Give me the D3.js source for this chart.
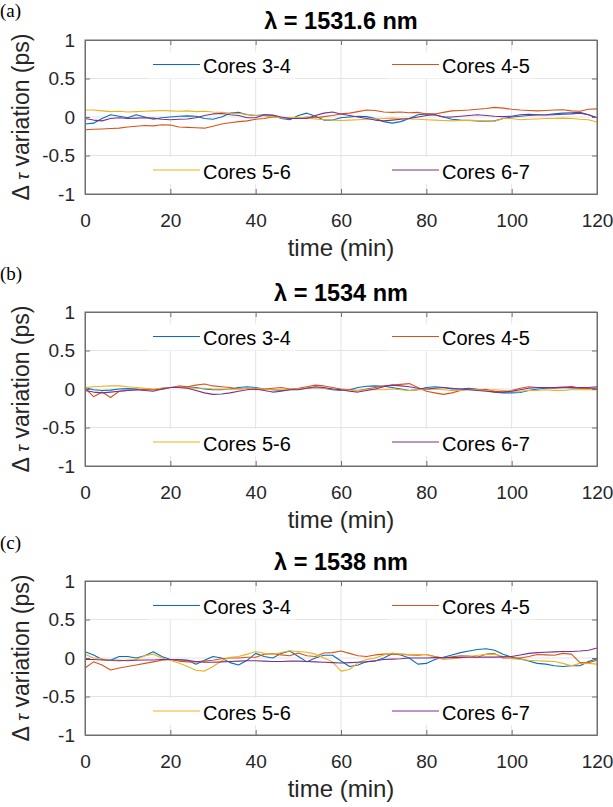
<!DOCTYPE html>
<html>
<head>
<meta charset="utf-8">
<script src="https://cdn.jsdelivr.net/npm/d3@7"></script>
<style>
  body { margin: 0; background: #ffffff; }
  svg { display: block; }
</style>
</head>
<body>
<svg id="chart"></svg>
<script>
// time axis (min), one sample every 2 min
const timeMin = [0,2,4,6,8,10,12,14,16,18,20,22,24,26,28,30,32,34,36,38,40,42,44,46,48,50,52,54,56,58,60,
  62,64,66,68,70,72,74,76,78,80,82,84,86,88,90,92,94,96,98,100,102,104,106,108,110,112,114,116,118,120];

const xTicks = [0, 20, 40, 60, 80, 100, 120];
const yTicks = [-1, -0.5, 0, 0.5, 1];
const yTickLabels = ["-1", "-0.5", "0", "0.5", "1"];

const seriesNames = ["Cores 3-4", "Cores 4-5", "Cores 5-6", "Cores 6-7"];
const seriesColors = ["#0072BD", "#D95319", "#EDB120", "#7E2F8E"];

const panelTitles = ["1531.6 nm", "1534 nm", "1538 nm"];
const panelLetters = ["(a)", "(b)", "(c)"];

// (a) lambda = 1531.6 nm
const a34 = [-0.09,-0.08,-0.02,0.03,0.01,-0.01,0.03,0,-0.03,-0.01,0,0.01,0.015,0.01,-0.02,-0.03,0,0.05,0.06,0.03,0.02,
  0.03,0.02,-0.02,-0.035,0.02,0.05,0.01,-0.04,-0.04,-0.01,0,0.01,0.005,-0.02,-0.06,-0.08,-0.06,-0.02,0.03,0.04,
  0.03,0,-0.03,-0.04,-0.045,-0.05,-0.055,-0.05,-0.02,0,0.01,0.02,0.025,0.03,0.04,0.05,0.055,0.06,0.03,-0.01];
const a45 = [-0.165,-0.16,-0.155,-0.15,-0.145,-0.13,-0.12,-0.11,-0.115,-0.1,-0.105,-0.13,-0.135,-0.14,-0.145,-0.12,-0.09,-0.075,-0.06,-0.05,-0.03,
  -0.02,0,-0.01,-0.015,-0.02,0,-0.01,0.005,0.02,0.04,0.05,0.07,0.09,0.085,0.065,0.06,0.065,0.055,0.06,0.04,
  0.04,0.06,0.08,0.085,0.09,0.1,0.11,0.125,0.115,0.1,0.09,0.085,0.08,0.085,0.09,0.095,0.08,0.075,0.1,0.105];
const a56 = [0.09,0.09,0.08,0.07,0.075,0.065,0.07,0.075,0.08,0.085,0.08,0.075,0.08,0.07,0.075,0.065,0.06,0.05,0.045,0.035,0.02,
  0.015,0,-0.01,-0.01,-0.005,-0.015,-0.025,-0.035,-0.04,-0.045,-0.04,-0.035,-0.03,-0.025,-0.02,-0.015,-0.02,-0.025,-0.03,-0.035,
  -0.04,-0.045,-0.05,-0.045,-0.04,-0.045,-0.05,-0.055,-0.02,-0.02,-0.035,-0.03,-0.025,-0.02,-0.02,-0.015,-0.02,-0.03,-0.035,-0.065];
const a67 = [-0.02,-0.04,-0.05,-0.02,-0.01,-0.02,-0.015,-0.01,-0.015,-0.03,-0.035,-0.03,-0.025,-0.01,0.02,0.04,0.045,0.03,0.02,-0.01,-0.01,
  0.03,0.025,0,-0.02,-0.02,-0.02,0.02,0.05,0.065,0.04,0.02,0,-0.02,-0.04,-0.05,-0.04,-0.03,-0.02,0,0.02,
  0.03,0,0,0.01,0.02,0.03,0.02,0.01,0.005,0.01,0.03,0.035,0.03,0.025,0.03,0.035,0.04,0.05,0.03,-0.01];

// (b) lambda = 1534 nm
const b34 = [0.02,-0.01,-0.02,-0.015,0,0.005,0,-0.01,-0.01,0.01,0.02,0.02,0.025,0.02,0,-0.01,-0.01,0,0.02,0.03,0.02,
  0,-0.01,-0.02,-0.01,0,0.01,0.02,0.01,-0.01,-0.02,-0.01,0.02,0.035,0.04,0.035,0.02,0,-0.02,-0.01,0.02,
  0.03,0.02,0,0,0.01,-0.005,-0.02,-0.04,-0.05,-0.05,-0.045,-0.02,0,0.01,0.015,0.02,0.015,0.01,0.01,0.01];
const b45 = [0.01,-0.1,-0.04,-0.11,-0.03,-0.02,-0.01,0,-0.01,-0.005,0.02,0.04,0.03,0.05,0.065,0.04,0.03,0.02,0,0.01,-0.01,
  0,0.01,0.02,0,0.01,0.03,0.05,0.04,0.02,0,-0.01,-0.02,0,0.02,0.04,0.05,0.06,0.07,0.02,-0.03,
  -0.05,-0.07,-0.05,-0.02,0,-0.01,-0.005,-0.03,-0.04,-0.02,0.01,0.03,0.02,0.02,0.01,0.02,0.035,0.01,0,0.01];
const b56 = [0.02,0.03,0.035,0.04,0.04,0.03,0.02,0.01,0,0.01,0.02,0.02,0.015,0.01,0.01,0,0,-0.005,0,0.01,0.01,
  0,-0.01,-0.01,0,0,0.01,0.02,0.01,0,-0.01,-0.02,-0.02,-0.01,-0.01,-0.01,0,-0.01,-0.02,-0.01,-0.01,
  0,-0.01,-0.02,-0.02,-0.01,-0.01,-0.02,-0.01,-0.02,-0.03,-0.03,-0.02,-0.02,-0.01,-0.02,-0.02,-0.01,-0.01,-0.01,-0.01];
const b67 = [-0.02,-0.04,-0.05,-0.04,-0.03,-0.02,-0.01,-0.02,-0.03,0,0.02,0.02,0.01,-0.02,-0.05,-0.07,-0.065,-0.05,-0.03,-0.01,0,
  -0.02,-0.04,-0.03,-0.01,-0.01,0.01,0.03,0.02,0,-0.01,-0.03,-0.04,-0.02,0,0.03,0.05,0.04,0.03,0.01,0,
  0.01,0.02,0.01,0,-0.01,-0.02,-0.03,-0.04,-0.04,-0.03,-0.01,0.01,0.02,0.02,0.02,0.025,0.02,0.02,0.02,0.03];

// (c) lambda = 1538 nm
const c34 = [0.08,0.04,-0.02,-0.03,0.02,0.02,0,0.03,0.08,0.02,-0.02,-0.02,-0.03,-0.08,-0.03,0.02,0,-0.06,-0.09,-0.03,0.06,
  0.02,0,0.06,0.09,0.02,-0.05,0,0.035,0.035,-0.04,-0.11,-0.09,-0.045,-0.04,0,0.055,0.04,0,-0.08,-0.07,
  -0.02,0.01,0.04,0.07,0.09,0.11,0.12,0.1,0.05,0.01,-0.01,-0.04,-0.07,-0.08,-0.1,-0.11,-0.1,-0.1,-0.045,-0.01];
const c45 = [-0.13,-0.05,-0.09,-0.155,-0.13,-0.11,-0.09,-0.07,-0.05,-0.03,-0.02,-0.04,-0.05,-0.05,-0.04,-0.03,-0.01,0,0,0.01,0.01,
  0.05,0.055,0.04,0.03,0.065,0.03,0.02,0.065,0.07,0.09,0.06,0.03,0.02,0.04,0.05,0.05,0.05,0.04,0.035,0.045,
  0.02,0,0.015,0.03,0.025,0.01,0.05,0.06,0,0,0,0.02,0.045,0.04,0.035,0.06,0.05,-0.06,-0.06,-0.03];
const c56 = [0.05,0,-0.01,-0.03,-0.04,-0.025,-0.02,0.03,0.05,0,-0.03,-0.065,-0.11,-0.16,-0.17,-0.11,-0.04,0.01,0.02,0.05,0.085,
  0.06,0.045,0.07,0.095,0.085,0.075,0.05,0,-0.05,-0.17,-0.15,-0.06,-0.02,0,0.04,0.065,0.05,0.045,0.045,0.045,
  0.01,-0.02,-0.01,0,0.02,0.035,0.045,0.05,0.02,-0.01,-0.02,-0.03,-0.035,-0.04,-0.045,-0.07,-0.1,-0.07,-0.07,-0.08];
const c67 = [-0.02,-0.02,-0.025,-0.03,-0.03,-0.035,-0.03,-0.025,-0.025,-0.02,-0.02,-0.025,-0.03,-0.045,-0.055,-0.055,-0.05,-0.045,-0.04,-0.035,-0.035,
  -0.04,-0.045,-0.045,-0.04,-0.04,-0.045,-0.05,-0.055,-0.06,-0.065,-0.06,-0.055,-0.05,-0.035,-0.02,-0.015,-0.01,0,0,0,
  0.005,0.005,0.005,0.008,0.01,0.01,0.012,0.012,0.015,0.02,0.04,0.06,0.07,0.075,0.08,0.085,0.085,0.09,0.1,0.13];

const panelSeries = [[a34, a45, a56, a67], [b34, b45, b56, b67], [c34, c45, c56, c67]];

// layout
const width = 613, height = 807;
const plotLeft = 85, plotRight = 597, plotH = 154;
const panelTops = [40, 312, 581];
const letterY = [17, 280, 549];

const gridColor = "#e3e3e3";
const axisColor = "#6f6f6f";
const tickTextColor = "#262626";

const svg = d3.select("#chart").attr("width", width).attr("height", height);

const x = d3.scaleLinear().domain([0, 120]).range([plotLeft, plotRight]);

function drawPanel(p) {
    const top = panelTops[p];
    const y = d3.scaleLinear().domain([-1, 1]).range([top + plotH, top]);
    const g = svg.append("g").attr("class", "panel");

    // grid
    g.selectAll(".gx").data(xTicks.slice(1, -1)).join("line")
        .attr("x1", d => x(d)).attr("x2", d => x(d))
        .attr("y1", top).attr("y2", top + plotH)
        .attr("stroke", gridColor).attr("stroke-width", 1);
    g.selectAll(".gy").data(yTicks.slice(1, -1)).join("line")
        .attr("x1", plotLeft).attr("x2", plotRight)
        .attr("y1", d => y(d)).attr("y2", d => y(d))
        .attr("stroke", gridColor).attr("stroke-width", 1);

    // data
    const line = d3.line().x((d, i) => x(timeMin[i])).y(d => y(d));
    panelSeries[p].forEach((vals, k) => {
        g.append("path")
            .datum(vals)
            .attr("d", line)
            .attr("fill", "none")
            .attr("stroke", seriesColors[k])
            .attr("stroke-width", 1.1)
            .attr("stroke-linejoin", "round");
    });

    // axes (ticks inward on all four sides)
    const fmtY = d => yTickLabels[yTicks.indexOf(d)];
    g.append("g").attr("transform", `translate(0,${top + plotH})`)
        .call(d3.axisBottom(x).tickValues(xTicks).tickSizeInner(-5).tickSizeOuter(0).tickPadding(19.5));
    g.append("g").attr("transform", `translate(${plotLeft},0)`)
        .call(d3.axisLeft(y).tickValues(yTicks).tickFormat(fmtY).tickSizeInner(-5).tickSizeOuter(0).tickPadding(10));
    g.append("g").attr("transform", `translate(0,${top})`)
        .call(d3.axisTop(x).tickValues(xTicks).tickFormat("").tickSizeInner(-5).tickSizeOuter(0));
    g.append("g").attr("transform", `translate(${plotRight},0)`)
        .call(d3.axisRight(y).tickValues(yTicks).tickFormat("").tickSizeInner(-5).tickSizeOuter(0));

    g.selectAll(".domain").attr("stroke", axisColor);
    g.selectAll(".tick line").attr("stroke", axisColor);
    g.selectAll(".tick text")
        .attr("fill", tickTextColor)
        .style("font-family", "'Liberation Sans', Arial, sans-serif")
        .style("font-size", "19px");

    g.append("rect")
        .attr("x", plotLeft).attr("y", top)
        .attr("width", plotRight - plotLeft).attr("height", plotH)
        .attr("fill", "none").attr("stroke", axisColor).attr("stroke-width", 1);

    // legend, 2 columns x 2 rows
    const legCols = [153, 392];
    const legRows = [top + 24.5, top + 130];
    seriesNames.forEach((name, k) => {
        const lx = legCols[k % 2];
        const ly = legRows[Math.floor(k / 2)];
        const item = g.append("g").attr("class", "legend-item");
        const bg = item.append("rect").attr("fill", "#ffffff");
        item.append("line")
            .attr("x1", lx).attr("x2", lx + 47)
            .attr("y1", ly).attr("y2", ly)
            .attr("stroke", seriesColors[k]).attr("stroke-width", 1.1);
        const t = item.append("text")
            .attr("x", lx + 50).attr("y", ly + 8.5)
            .attr("fill", "#000000")
            .style("font-family", "'Liberation Sans', Arial, sans-serif")
            .style("font-size", "20px")
            .text(name);
        const tw = t.node().getComputedTextLength();
        bg.attr("x", lx - 5).attr("y", ly - 13)
            .attr("width", 50 + tw + 10).attr("height", 27);
    });

    // title
    g.append("text")
        .attr("x", (plotLeft + plotRight) / 2).attr("y", top - 11.5)
        .attr("text-anchor", "middle")
        .style("font-family", "'Liberation Sans', Arial, sans-serif")
        .style("font-size", "23.5px").style("font-weight", "bold")
        .text("\u03BB = " + panelTitles[p]);

    // x label
    g.append("text")
        .attr("x", (plotLeft + plotRight) / 2).attr("y", top + 216)
        .attr("text-anchor", "middle")
        .attr("fill", tickTextColor)
        .style("font-family", "'Liberation Sans', Arial, sans-serif")
        .style("font-size", "24px")
        .text("time (min)");

    // y label
    const yl = g.append("text")
        .attr("transform", `translate(29,${top + plotH / 2}) rotate(-90)`)
        .attr("text-anchor", "middle")
        .attr("fill", tickTextColor)
        .style("font-family", "'Liberation Sans', Arial, sans-serif")
        .style("font-size", "23px");
    yl.append("tspan").text("\u0394 ");
    yl.append("tspan").style("font-style", "italic").style("font-size", "19px").text("\u03C4");
    yl.append("tspan").text(" variation (ps)");

    // panel letter
    g.append("text")
        .attr("x", 0).attr("y", letterY[p])
        .style("font-family", "'Liberation Serif', 'Times New Roman', serif")
        .style("font-size", "19px")
        .text(panelLetters[p]);
}

panelTops.forEach((_, p) => drawPanel(p));
</script>
</body>
</html>
